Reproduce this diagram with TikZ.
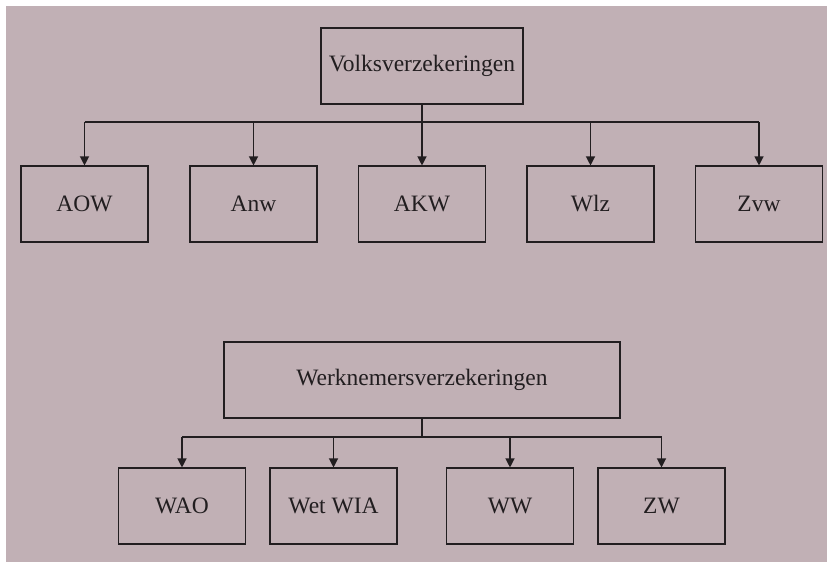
\documentclass[tikz,border=0pt]{standalone}
\usepackage{fontspec}
\setmainfont{Liberation Serif}
\usetikzlibrary{arrows.meta}
\definecolor{bgpink}{RGB}{193,176,181}
\definecolor{ink}{RGB}{34,30,32}
\begin{document}
\begin{tikzpicture}[x=1pt,y=-1pt,
  box/.style={draw=ink,line width=1.1pt,rectangle,inner sep=0pt,
    minimum height=76pt,font=\fontsize{23.5}{28}\selectfont,text=ink},
  leaf/.style={box,minimum width=127pt},
  stem/.style={draw=ink,line width=2pt},
  bus/.style={draw=ink,line width=1.5pt},
  arr/.style={draw=ink,line width=1.2pt,-{Triangle[length=9pt,width=9pt]}}]
\useasboundingbox (0,0) rectangle (827,562);
\fill[white] (0,0) rectangle (827,562);
\fill[bgpink] (6,6) rectangle (827,562);
% top group
\node[box,minimum width=202pt] (volks) at (422,66) {Volksverzekeringen};
\node[leaf] (aow) at (84.5,204) {AOW};
\node[leaf] (anw) at (253.5,204) {Anw};
\node[leaf] (akw) at (422,204) {AKW};
\node[leaf] (wlz) at (590.5,204) {Wlz};
\node[leaf] (zvw) at (759,204) {Zvw};
\coordinate (bus1) at (422,122);
\draw[stem] (volks.south) -- (bus1);
\draw[bus] (aow.north |- bus1) -- (zvw.north |- bus1);
\foreach \n in {aow,anw,akw,wlz,zvw}{
  \draw[arr] (\n.north |- bus1) -- (\n.north);
}
% bottom group
\node[box,minimum width=396pt] (werk) at (422,380) {Werknemersverzekeringen};
\node[leaf] (wao) at (182,506) {WAO};
\node[leaf] (wia) at (333.5,506) {Wet WIA};
\node[leaf] (ww) at (510,506) {WW};
\node[leaf] (zw) at (661.5,506) {ZW};
\coordinate (bus2) at (422,437);
\draw[stem] (werk.south) -- (bus2);
\draw[bus] (wao.north |- bus2) -- (zw.north |- bus2);
\foreach \n in {wao,wia,ww,zw}{
  \draw[arr] (\n.north |- bus2) -- (\n.north);
}
\end{tikzpicture}
\end{document}
